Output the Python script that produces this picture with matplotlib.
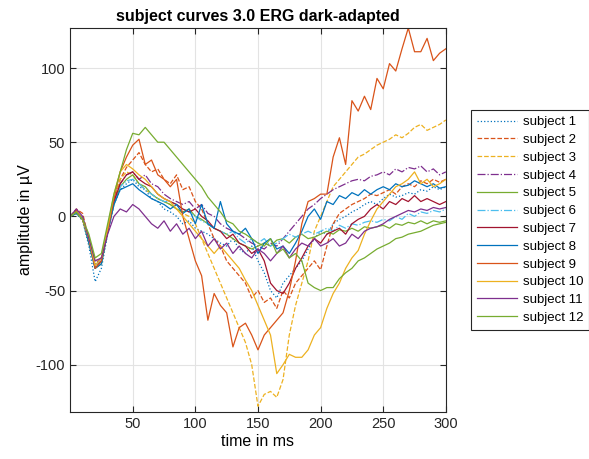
import numpy as np
import matplotlib as mpl
import matplotlib.pyplot as plt

mpl.rcParams["font.family"] = ["Liberation Sans", "DejaVu Sans"]
mpl.rcParams["font.size"] = 10
mpl.rcParams["axes.unicode_minus"] = False

# time axis in ms (5 ms steps)
time_ms = np.arange(0, 305, 5)

# amplitudes in microvolts
subject_1 = [
    0, 2, -3, -20, -44, -35, -12, 8, 18, 22,
    25, 20, 18, 12, 10, 5, 3, 0, -5, -3,
    -8, -10, -12, -15, -18, -20, -15, -22, -25, -20,
    -30, -38, -50, -55, -45, -40, -35, -30, -22, -15,
    -10, -12, -5, -2, 0, 3, 5, 8, 10, 8,
    12, 15, 13, 14, 16, 15, 18, 17, 20, 18,
    20,
]
subject_2 = [
    0, 5, 2, -15, -33, -30, -10, 10, 25, 33,
    38, 43, 35, 30, 32, 25, 22, 28, 18, 20,
    10, 5, -5, -15, -20, -30, -35, -40, -45, -55,
    -50, -58, -55, -62, -50, -55, -45, -40, -35, -30,
    -36, -20, -5, 2, 5, 8, 10, 12, 15, 14,
    16, 18, 15, 20, 22, 20, 24, 22, 25, 23,
    25,
]
subject_3 = [
    0, 3, -2, -15, -30, -28, -8, 12, 25, 30,
    28, 22, 18, 15, 12, 10, 8, 5, 2, 0,
    -5, -15, -25, -35, -45, -55, -65, -75, -85, -100,
    -128, -120, -118, -122, -110, -80, -60, -45, -30, -10,
    0, 10, 20, 25, 30, 35, 40, 42, 45, 48,
    50, 52, 55, 53, 56, 60, 62, 58, 60, 62,
    65,
]
subject_4 = [
    0, 3, -2, -15, -32, -28, -8, 10, 22, 28,
    30, 25, 28, 22, 20, 15, 12, 10, 8, 10,
    5, 8, 2, 0, -5, -8, -10, -12, -15, -18,
    -20, -22, -18, -20, -15, -10, -5, 0, 5, 8,
    12, 15, 18, 20, 22, 24, 25, 24, 27, 28,
    30, 28, 32, 30, 33, 32, 34, 30, 32, 28,
    30,
]
subject_5 = [
    0, 2, -2, -18, -35, -32, -10, 8, 20, 25,
    28, 22, 20, 15, 12, 10, 8, 5, 3, 5,
    0, -2, -5, -8, -10, -12, -15, -18, -20, -22,
    -20, -18, -20, -16, -15, -18, -14, -12, -15, -14,
    -12, -10, -12, -9, -10, -8, -10, -7, -8, -7,
    -6, -8, -5, -6, -4, -5, -3, -5, -3, -4,
    -3,
]
subject_6 = [
    0, 3, -1, -15, -33, -30, -10, 8, 20, 24,
    25, 22, 18, 15, 12, 10, 10, 8, 5, 3,
    0, -3, -5, -8, -10, -12, -10, -15, -18, -15,
    -18, -15, -20, -18, -15, -12, -14, -12, -10, -12,
    -10, -8, -10, -6, -8, -5, -6, -4, -3, -4,
    -2, -3, 0, -2, 2, 0, 3, 2, 4, 3,
    5,
]
subject_7 = [
    0, 3, -2, -15, -35, -30, -10, 10, 22, 28,
    30, 25, 22, 20, 15, 12, 10, 8, 5, 3,
    5, 0, -3, -8, -10, -15, -12, -18, -20, -25,
    -22, -30, -45, -50, -52, -45, -35, -28, -20, -15,
    -18, -12, -10, -8, -12, -5, -2, 0, 5, 8,
    5, 10, 8, 12, 10, 14, 10, 12, 10, 8,
    10,
]
subject_8 = [
    0, 2, -2, -18, -35, -32, -10, 8, 18, 20,
    22, 18, 15, 12, 10, 8, 5, 8, 2, 5,
    -5, 8, -5, -8, 10, -5, -10, -12, -8, -15,
    -25, -18, -15, -22, -20, -25, -18, -10, 0, 5,
    -2, 10, 8, 14, 12, 16, 14, 18, 15, 18,
    20, 18, 22, 20, 21, 24, 22, 20, 22, 19,
    20,
]
subject_9 = [
    0, 4, -2, -15, -35, -30, -10, 12, 30, 40,
    48, 52, 35, 38, 28, 25, 20, 25, 0, -15,
    -30, -40, -70, -52, -60, -65, -88, -75, -72, -80,
    -90, -80, -75, -70, -65, -50, -30, -5, 10, 12,
    15, 15, 40, 53, 35, 78, 71, 81, 72, 93,
    86, 103, 98, 113, 127, 111, 111, 120, 105, 110,
    113,
]
subject_10 = [
    0, 3, -2, -15, -33, -28, -8, 15, 30, 35,
    32, 28, 25, 20, 15, 12, 10, 5, 0, -5,
    -10, -15, -20, -25, -20, -25, -30, -35, -43, -50,
    -60, -70, -80, -106, -100, -93, -95, -95, -90, -80,
    -75, -62, -52, -45, -35, -28, -23, -12, -3, 5,
    10, 15, 20, 22, 25, 30, 22, 25, 20, 22,
    25,
]
subject_11 = [
    0, 5, 0, -15, -30, -28, -12, 0, 5, 3,
    8, 5, 0, -5, -8, -3, -10, -5, -12, -8,
    -15, -10, -20, -15, -22, -18, -25, -20, -25, -28,
    -22, -25, -30, -25, -20, -28, -22, -18, -20, -15,
    -20, -18, -15, -20, -18, -12, -15, -10, -8, -7,
    -5, -2, 0, 2, 4, 3, 5, 4, 6, 5,
    6,
]
subject_12 = [
    0, 3, -2, -12, -28, -25, -5, 15, 30, 45,
    56, 55, 60, 55, 50, 50, 45, 40, 35, 30,
    25, 20, 13, 8, 3, -3, -5, -10, -12, -15,
    -18, -20, -15, -25, -22, -28, -25, -30, -45, -48,
    -50, -48, -48, -42, -38, -35, -30, -28, -25, -22,
    -20, -18, -15, -14, -12, -11, -10, -8, -6, -5,
    -4,
]

subjects = [
    subject_1, subject_2, subject_3, subject_4, subject_5, subject_6,
    subject_7, subject_8, subject_9, subject_10, subject_11, subject_12,
]
labels = [f"subject {i}" for i in range(1, 13)]

# MATLAB default colour order
matlab_colors = ["#0072BD", "#D95319", "#EDB120", "#7E2F8E",
                 "#77AC30", "#4DBEEE", "#A2142F"]
line_styles = [":", "--", "--", "-.", "-", "-.", "-",
               "-", "-", "-", "-", "-"]

fig = plt.figure(figsize=(5.89, 4.59), dpi=100)
ax = fig.add_axes([0.119, 0.102, 0.638, 0.837])

for i, (vals, lab) in enumerate(zip(subjects, labels)):
    ax.plot(
        time_ms,
        vals,
        color=matlab_colors[i % len(matlab_colors)],
        linestyle=line_styles[i],
        linewidth=0.9,
        label=lab,
    )

ax.set_xlim(0, 300)
ax.set_ylim(-132, 127)
ax.set_xticks([50, 100, 150, 200, 250, 300])
ax.set_yticks([-100, -50, 0, 50, 100])

ax.grid(True, color="#e3e3e3", linewidth=0.8)
ax.set_axisbelow(True)
ax.tick_params(direction="in", top=True, right=True, length=4,
               colors="#262626", labelsize=10.5)
for sp in ax.spines.values():
    sp.set_color("#262626")
    sp.set_linewidth(0.8)

ax.set_title("subject curves 3.0 ERG dark-adapted", fontweight="bold",
             fontsize=11.5, pad=5)
ax.set_xlabel("time in ms", fontsize=11.5, labelpad=2)
ax.set_ylabel("amplitude in µV", fontsize=11.5, labelpad=2)

leg = fig.legend(
    loc="upper left",
    bbox_to_anchor=(0.800, 0.760),
    borderaxespad=0,
    fancybox=False,
    framealpha=1,
    edgecolor="#262626",
    fontsize=9.5,
    handlelength=3.0,
    handletextpad=0.45,
    borderpad=0.45,
    labelspacing=0.42,
)
leg.get_frame().set_linewidth(0.8)

fig.savefig("out.png", dpi=100)
